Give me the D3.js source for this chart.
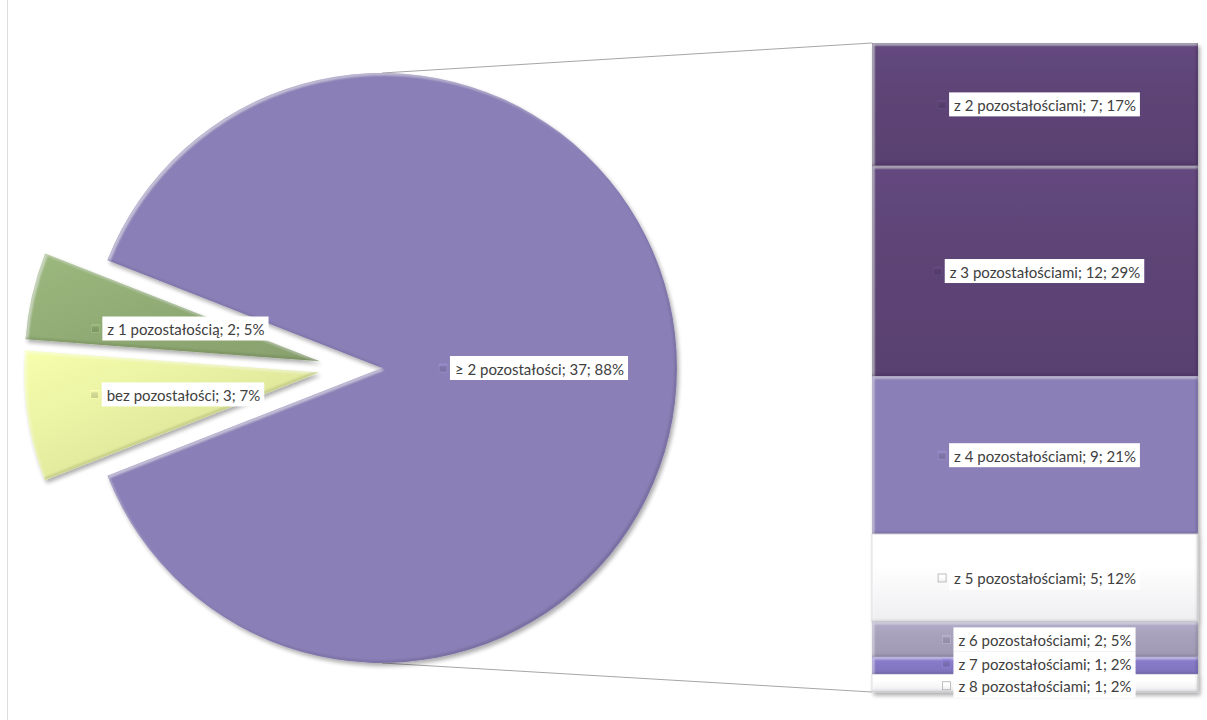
<!DOCTYPE html>
<html>
<head>
<meta charset="utf-8">
<script src="https://cdn.jsdelivr.net/npm/d3@7"></script>
<style>
  html, body { margin: 0; padding: 0; background: #ffffff; }
  svg { display: block; }
  text { font-family: "Lato", "Open Sans", sans-serif; }
</style>
</head>
<body>
<svg id="chart" width="1207" height="720"></svg>
<script>
// Pie part: main slice (split further in the bar) and the two small groups
const pieNames  = ["≥ 2 pozostałości", "bez pozostałości", "z 1 pozostałością"];
const pieValues = [37, 3, 2];

// Bar part: breakdown of the "≥ 2" slice
const barNames  = ["z 2 pozostałościami", "z 3 pozostałościami", "z 4 pozostałościami",
                   "z 5 pozostałościami", "z 6 pozostałościami", "z 7 pozostałościami",
                   "z 8 pozostałościami"];
const barValues = [7, 12, 9, 5, 2, 1, 1];

// Colour palettes
const pieColors = ["#8a7fb6", "#e2ea9e", "#8fa973"];
const barColors = ["#5c4375", "#5c4375", "#8a7fb6", "#ffffff", "#a59fba", "#8477c3", "#ffffff"];

const W = 1207, H = 720;
const total = d3.sum(pieValues);
const pct = v => Math.round(v / total * 100) + "%";

const svg = d3.select("#chart");
const defs = svg.append("defs");

const isWhite = color => { const c = d3.color(color); return c.r > 245 && c.g > 245 && c.b > 245; };

// ---------- gradients ----------
function vGradient(id, color, lift = 0.22) {
  const c = d3.color(color);
  const w = isWhite(color);
  const g = defs.append("linearGradient").attr("id", id)
    .attr("x1", 0).attr("y1", 0).attr("x2", 0).attr("y2", 1);
  g.append("stop").attr("offset", "0%").attr("stop-color", w ? "#ffffff" : c.brighter(lift).formatHex());
  g.append("stop").attr("offset", "35%").attr("stop-color", w ? "#ffffff" : c.brighter(0.05).formatHex());
  g.append("stop").attr("offset", "100%").attr("stop-color", w ? "#eeeef1" : c.darker(0.1).formatHex());
  return `url(#${id})`;
}
function dGradient(id, color) {
  const c = d3.color(color);
  const g = defs.append("linearGradient").attr("id", id)
    .attr("x1", 0).attr("y1", 0).attr("x2", 1).attr("y2", 1);
  g.append("stop").attr("offset", "0%").attr("stop-color", c.brighter(0.25).formatHex());
  g.append("stop").attr("offset", "55%").attr("stop-color", c.formatHex());
  g.append("stop").attr("offset", "100%").attr("stop-color", c.darker(0.15).formatHex());
  return `url(#${id})`;
}

// ---------- bevel + soft shadow filter ----------
function addBevel(id) {
  const f = defs.append("filter").attr("id", id)
    .attr("filterUnits", "userSpaceOnUse")
    .attr("x", -800).attr("y", -800).attr("width", 2800).attr("height", 2400);
  const el = (name, attrs) => {
    const n = f.append(name);
    Object.entries(attrs).forEach(([k, v]) => n.attr(k, v));
    return n;
  };
  el("feGaussianBlur", { in: "SourceAlpha", stdDeviation: 2.2, result: "sb" });
  el("feOffset", { in: "sb", dx: 1.5, dy: 2.5, result: "so" });
  const ct = el("feComponentTransfer", { in: "so", result: "shadow" });
  ct.append("feFuncA").attr("type", "linear").attr("slope", 0.33);

  el("feOffset", { in: "SourceAlpha", dx: 2, dy: 2, result: "a1" });
  el("feComposite", { in: "SourceAlpha", in2: "a1", operator: "out", result: "rim1" });
  el("feGaussianBlur", { in: "rim1", stdDeviation: 0.9, result: "rim1b" });
  el("feComposite", { in: "rim1b", in2: "SourceAlpha", operator: "in", result: "rim1c" });
  el("feFlood", { "flood-color": "#ffffff", "flood-opacity": 0.5, result: "wf" });
  el("feComposite", { in: "wf", in2: "rim1c", operator: "in", result: "hi" });

  el("feOffset", { in: "SourceAlpha", dx: -2, dy: -2, result: "a2" });
  el("feComposite", { in: "SourceAlpha", in2: "a2", operator: "out", result: "rim2" });
  el("feGaussianBlur", { in: "rim2", stdDeviation: 0.9, result: "rim2b" });
  el("feComposite", { in: "rim2b", in2: "SourceAlpha", operator: "in", result: "rim2c" });
  el("feFlood", { "flood-color": "#000000", "flood-opacity": 0.3, result: "bf" });
  el("feComposite", { in: "bf", in2: "rim2c", operator: "in", result: "lo" });

  const m = f.append("feMerge");
  ["shadow", "SourceGraphic", "hi", "lo"].forEach(n => m.append("feMergeNode").attr("in", n));
}
addBevel("bevel");

// faint chart-area border on the left
svg.append("line").attr("x1", 7.5).attr("x2", 7.5).attr("y1", 0).attr("y2", H)
  .attr("stroke", "#dcdcdc").attr("stroke-width", 1);

// ---------- pie ----------
const cx = 349, cy = 368, R = 295;
const mainShare = pieValues[0] / total;
const startA = Math.PI / 2 - Math.PI * mainShare;
const pie = d3.pie().sort(null).value(d => d)
  .startAngle(startA).endAngle(startA + 2 * Math.PI);
const arcs = pie(pieValues);
const arc = d3.arc().innerRadius(0).outerRadius(R);
const explode = i => i === 0 ? 33 : 30;

const slices = arcs.map((a, i) => {
  const mid = (a.startAngle + a.endAngle) / 2;
  const e = explode(i);
  return { a, i, ox: cx + Math.sin(mid) * e, oy: cy - Math.cos(mid) * e };
});

// connector lines from the main slice to the bar
const barX0 = 872, barX1 = 1198;
const yBar = d3.scaleLinear().domain([0, d3.sum(barValues)]).range([43, 692]);
const mainSl = slices[0];
svg.append("line")
  .attr("x1", mainSl.ox).attr("y1", mainSl.oy - R)
  .attr("x2", barX0).attr("y2", yBar(0))
  .attr("stroke", "#a6a6a6").attr("stroke-width", 1);
svg.append("line")
  .attr("x1", mainSl.ox).attr("y1", mainSl.oy + R)
  .attr("x2", barX0).attr("y2", yBar(d3.sum(barValues)))
  .attr("stroke", "#a6a6a6").attr("stroke-width", 1);

const pieG = svg.append("g");
slices.forEach(s => {
  pieG.append("path")
    .attr("transform", `translate(${s.ox},${s.oy})`)
    .attr("d", arc(s.a))
    .attr("fill", s.i === 0 ? pieColors[0] : dGradient("pg" + s.i, pieColors[s.i]))
    .attr("filter", "url(#bevel)");
});

// ---------- bar ----------
const cum = d3.cumsum(barValues);
const segs = barValues.map((v, i) => ({ v, i, y0: yBar(cum[i] - v), y1: yBar(cum[i]) }));
const barG = svg.append("g");
segs.forEach(s => {
  barG.append("rect")
    .attr("x", barX0).attr("y", s.y0)
    .attr("width", barX1 - barX0).attr("height", s.y1 - s.y0)
    .attr("fill", s.i === 2 ? barColors[s.i] : vGradient("bg" + s.i, barColors[s.i]))
    .attr("stroke", isWhite(barColors[s.i]) ? "#d4d4d8" : "none")
    .attr("stroke-width", 1)
    .attr("filter", "url(#bevel)");
});

// ---------- data labels ----------
const labelLayer = svg.append("g");
let keyCount = 0;
function drawLabel(x, y, str, color) {
  const g = labelLayer.append("g");
  const box = g.append("rect").attr("fill", "#ffffff");
  const key = g.append("rect");
  const t = g.append("text").text(str)
    .attr("font-size", 15).attr("fill", "#404040")
    .attr("dominant-baseline", "central");
  const tw = t.node().getComputedTextLength();
  const keyW = 8, gap = 3, padL = 5, padR = 4, bh = 24;
  const totalW = keyW + gap + padL + tw + padR;
  const left = x + 4 - totalW / 2;
  const c = d3.color(color);
  const w = isWhite(color);
  box.attr("x", left + keyW + gap).attr("y", y - bh / 2)
    .attr("width", padL + tw + padR).attr("height", bh);
  key.attr("x", left).attr("y", y - keyW / 2)
    .attr("width", keyW).attr("height", keyW)
    .attr("fill", w ? vGradient("kg" + (keyCount++), "#ffffff")
                    : vGradient("kg" + (keyCount++), c.darker(0.25).formatHex(), 0.7))
    .attr("stroke", w ? "#b0b0b0" : c.brighter(0.3).formatHex())
    .attr("stroke-width", 0.8);
  t.attr("x", left + keyW + gap + padL).attr("y", y + 0.5);
}

slices.forEach(s => {
  const [dx, dy] = arc.centroid(s.a);
  const v = pieValues[s.i];
  drawLabel(s.ox + dx, s.oy + dy, `${pieNames[s.i]}; ${v}; ${pct(v)}`, pieColors[s.i]);
});

// bar labels centred on their segments, nudged apart where they would overlap
const minGap = 22.5;
const ly = segs.map(s => (s.y0 + s.y1) / 2);
for (let k = 0; k < 20; k++) {
  for (let i = 1; i < ly.length; i++) {
    const d = ly[i] - ly[i - 1];
    if (d < minGap) {
      const push = (minGap - d) / 2;
      ly[i - 1] -= push;
      ly[i] += push;
    }
  }
}
segs.forEach((s, i) => {
  drawLabel((barX0 + barX1) / 2, ly[i], `${barNames[i]}; ${s.v}; ${pct(s.v)}`, barColors[i]);
});
</script>
</body>
</html>
